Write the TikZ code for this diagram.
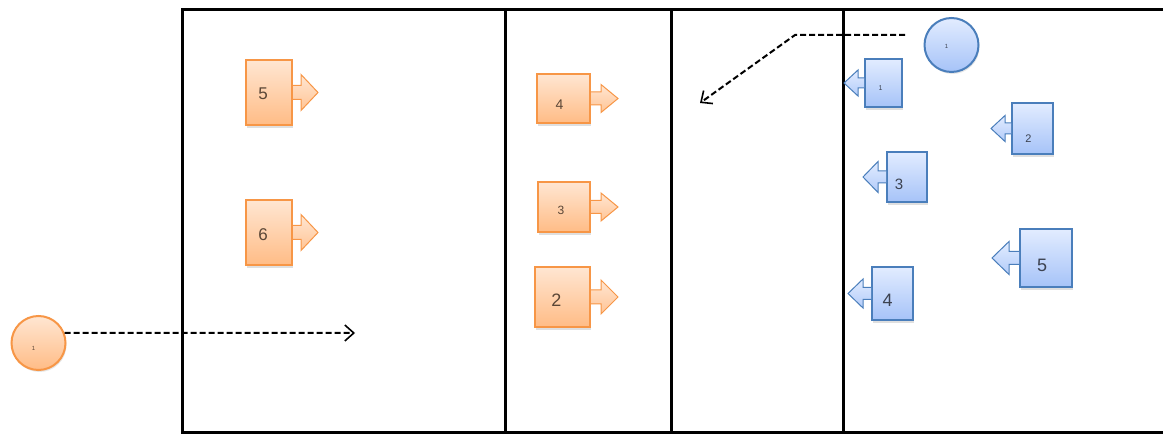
\documentclass[tikz,border=0pt]{standalone}
\usepackage{fontspec}
\setmainfont{Liberation Sans}
\usetikzlibrary{arrows.meta,shadows,calc}
\definecolor{obord}{HTML}{F79646}
\definecolor{otop}{HTML}{FFE6D2}
\definecolor{obot}{HTML}{FFBC86}
\definecolor{bbord}{HTML}{4A7EBB}
\definecolor{btop}{HTML}{E2ECFF}
\definecolor{bbot}{HTML}{A6C3F8}
\definecolor{otext}{HTML}{5A4636}
\definecolor{btext}{HTML}{3C4250}
\newcommand{\rarr}[6]{\path[#1] ([yshift=#5pt]#2.east) -- ++(#3,0) -- ++(0,{-(#6-#5)}) -- ++(#4,#6) -- ++(-#4,#6) -- ++(0,{-(#6-#5)}) -- ++(-#3,0);}
\newcommand{\larr}[6]{\path[#1] ([yshift=#5pt]#2.west) -- ++(-#3,0) -- ++(0,{-(#6-#5)}) -- ++(-#4,#6) -- ++(#4,#6) -- ++(0,{-(#6-#5)}) -- ++(#3,0);}
\tikzset{
  frame/.style={line width=3pt,black},
  obox/.style={draw=obord,line width=2pt,top color=otop,bottom color=obot,inner sep=0pt,
    drop shadow={opacity=0.25,shadow xshift=1pt,shadow yshift=-3pt}},
  bbox/.style={draw=bbord,line width=2pt,top color=btop,bottom color=bbot,inner sep=0pt,
    drop shadow={opacity=0.25,shadow xshift=1pt,shadow yshift=-3pt}},
  oarr/.style={draw=obord,line width=1pt,top color=otop,bottom color=obot!80!otop,line join=miter},
  barr/.style={draw=bbord,line width=1pt,top color=btop,bottom color=bbot!80!btop,line join=miter},
  olab/.style={text=otext,inner sep=0pt},
  blab/.style={text=btext,inner sep=0pt},
  ocirc/.style={circle,draw=obord,line width=2pt,top color=otop,bottom color=obot,minimum size=54pt,inner sep=0pt,
    drop shadow={opacity=0.2,shadow xshift=1pt,shadow yshift=-2pt}},
  bcirc/.style={circle,draw=bbord,line width=2pt,top color=btop,bottom color=bbot,minimum size=54pt,inner sep=0pt,
    drop shadow={opacity=0.2,shadow xshift=1pt,shadow yshift=-2pt}},
  conn/.style={line width=2pt,dash pattern=on 6pt off 3pt,
    -{Straight Barb[length=9pt,width=16pt,line width=1.6pt]}},
}
\newcommand{\fs}[1]{\fontsize{#1}{#1}\selectfont}
\begin{document}
\begin{tikzpicture}[x=1pt,y=-1pt]
\useasboundingbox (0,0) rectangle (1163,435);
% frame
\draw[frame] (1163,10) -- (182,10) -- (182,433) -- (1163,433);
\draw[frame] (505,10) -- (505,433);
\draw[frame] (671,10) -- (671,433);
\draw[frame] (843,10) -- (843,433);
% orange tags
\node[obox,minimum width=46pt,minimum height=65pt,label={[olab,font=\fs{17},xshift=-6pt,yshift=-1pt]center:5}] (o5) at (269,92.5) {};
\rarr{oarr}{o5}{8}{17}{7}{18}
\node[obox,minimum width=46pt,minimum height=65pt,label={[olab,font=\fs{17},xshift=-6pt,yshift=-2pt]center:6}] (o6) at (269,232.5) {};
\rarr{oarr}{o6}{8}{17}{7}{18}
\node[obox,minimum width=53pt,minimum height=49pt,label={[olab,font=\fs{14},xshift=-4pt,yshift=-6pt]center:4}] (o4) at (563.5,98.5) {};
\rarr{oarr}{o4}{10}{17}{6.5}{14}
\node[obox,minimum width=52pt,minimum height=50pt,label={[olab,font=\fs{12},xshift=-3pt,yshift=-3pt]center:3}] (o3) at (564,207) {};
\rarr{oarr}{o3}{10}{17}{6.5}{14}
\node[obox,minimum width=55pt,minimum height=60pt,label={[olab,font=\fs{18},xshift=-6pt,yshift=-3pt]center:2}] (o2) at (562.5,297) {};
\rarr{oarr}{o2}{10}{17}{7}{17}
% blue tags
\node[bbox,minimum width=37pt,minimum height=48pt,label={[blab,font=\fs{7},xshift=-3pt,yshift=-5pt]center:1}] (b1) at (883.5,83) {};
\larr{barr}{b1}{6}{14}{5}{13}
\node[bbox,minimum width=41pt,minimum height=51pt,label={[blab,font=\fs{11},xshift=-4pt,yshift=-10pt]center:2}] (b2) at (1032.5,128.5) {};
\larr{barr}{b2}{6}{14}{5.5}{13}
\node[bbox,minimum width=40pt,minimum height=50pt,label={[blab,font=\fs{15},xshift=-8pt,yshift=-7pt]center:3}] (b3) at (907,177) {};
\larr{barr}{b3}{8}{15}{6}{15.5}
\node[bbox,minimum width=41pt,minimum height=53pt,label={[blab,font=\fs{18},xshift=-5pt,yshift=-7pt]center:4}] (b4) at (892.5,293.5) {};
\larr{barr}{b4}{8}{15}{6}{14.5}
\node[bbox,minimum width=52pt,minimum height=58pt,label={[blab,font=\fs{18},xshift=-4pt,yshift=-7pt]center:5}] (b5) at (1046,258) {};
\larr{barr}{b5}{10}{17}{6.5}{16.5}
% circles
\node[ocirc,label={[olab,font=\fs{6},xshift=-5pt,yshift=-5pt]center:1}] (oc) at (38.5,343) {};
\node[bcirc,label={[blab,font=\fs{6},xshift=-5pt,yshift=-1pt]center:1}] (bc) at (951.5,45) {};
% connectors
\coordinate (oend) at (355,333);
\draw[conn] (oc.21) -- (oend);
\coordinate (bstart) at (905,35);
\coordinate (bbend) at (795,35);
\coordinate (bend) at (700,103);
\draw[conn] (bstart) -- (bbend) -- (bend);
\end{tikzpicture}
\end{document}
